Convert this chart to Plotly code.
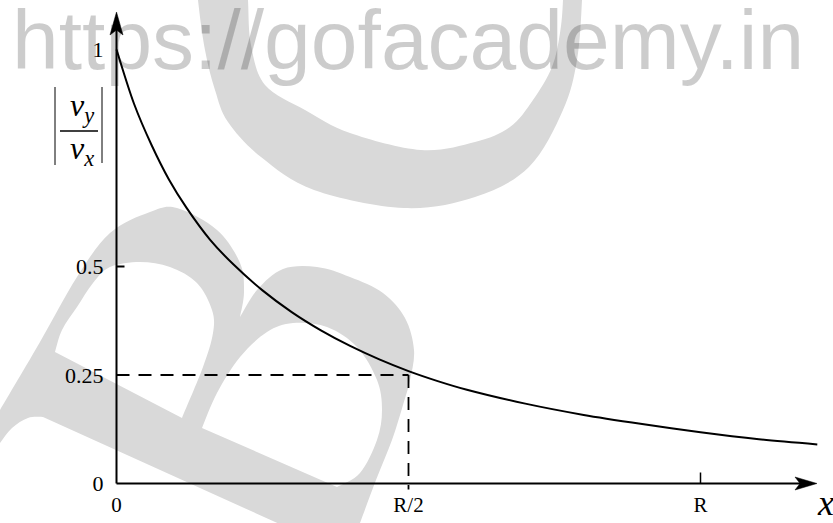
import plotly.graph_objects as go

W, H = 833, 523

# ---------------- data ----------------
x_ratio = [0.0, 0.03, 0.06, 0.09, 0.12, 0.16, 0.20, 0.25, 0.30, 0.35, 0.40,
           0.45, 0.50, 0.55, 0.60, 0.70, 0.80, 0.90, 1.00, 1.10, 1.20]
abs_vy_vx = [1.0, 0.875, 0.78, 0.70, 0.635, 0.562, 0.505, 0.445, 0.395, 0.353, 0.317,
             0.286, 0.259, 0.236, 0.216, 0.184, 0.158, 0.137, 0.118, 0.102, 0.090]
ref_x = 0.5
ref_y = 0.25
y_tick_vals = [0, 0.25, 0.5, 1]
y_tick_text = ["0", "0.25", "0.5", "1"]
x_tick_vals = [0, 0.5, 1]
x_tick_text = ["0", "R/2", "R"]
watermark = "https://gofacademy.in"

# ---------------- pixel <-> axis mapping ----------------
X0_PX, X_SCALE = 116.5, 584.0
Y0_PX, Y_SCALE = 483.5, 434.0
x_range = [(0 - X0_PX) / X_SCALE, (W - X0_PX) / X_SCALE]
y_range = [(Y0_PX - H) / Y_SCALE, Y0_PX / Y_SCALE]


def px(x):
    return x / W


def py(y):
    return 1 - y / H


def P(pt):
    return f"{px(pt[0]):.5f},{py(pt[1]):.5f}"


def catmull(pts):
    """cubic bezier segments through pts (open curve)."""
    segs = []
    n = len(pts)
    for i in range(n - 1):
        p0 = pts[i - 1] if i > 0 else pts[i]
        p1 = pts[i]
        p2 = pts[i + 1]
        p3 = pts[i + 2] if i + 2 < n else pts[i + 1]
        c1 = (p1[0] + (p2[0] - p0[0]) / 6, p1[1] + (p2[1] - p0[1]) / 6)
        c2 = (p2[0] - (p3[0] - p1[0]) / 6, p2[1] - (p3[1] - p1[1]) / 6)
        segs.append(f"C{P(c1)} {P(c2)} {P(p2)}")
    return " ".join(segs)


# watermark "C" ring (pixel coords)
ring_outer = [(194, -50), (198, 0), (205, 50), (215, 90), (228, 122), (261, 157), (314, 190),
              (404, 208), (475, 197), (529, 167), (563, 110), (577, 60), (582, 0), (583, -50)]
ring_inner = [(564, -50), (563, 0), (560, 33), (552, 67), (533, 100), (510, 127), (475, 142),
              (421, 150), (350, 133), (305, 110), (265, 85), (251, 45), (248, 0), (246, -50)]
ring_path = (f"M{P(ring_outer[0])} " + catmull(ring_outer) +
             f" L{P(ring_inner[0])} " + catmull(ring_inner) + " Z")

# watermark "B" (pixel coords)
b_outer = [(0, 410), (40, 342), (77, 277), (110, 233), (150, 212), (177, 208), (217, 230),
           (240, 263), (244, 292), (240, 317)]
b_outer2 = [(240, 317), (257, 290), (283, 269), (317, 267), (350, 277), (383, 293),
            (405, 318), (414, 350), (410, 380), (403, 405), (392, 440), (376, 480),
            (360, 523), (352, 545)]
b_corner = [(43, 417), (28, 418), (12, 428), (0, 443), (-10, 455)]
b_path = (f"M{P((-10, 427))} L{P(b_outer[0])} " + catmull(b_outer) + " " +
          catmull(b_outer2) + f" L{P((326, 545))} L{P(b_corner[0])} " +
          catmull(b_corner) + " Z")
hole1 = [(55, 352), (62, 330), (77, 307), (93, 283), (110, 267), (140, 262), (170, 267),
         (197, 283), (212, 310), (213, 333), (203, 367), (182, 418)]
hole2 = [(202, 428), (217, 393), (240, 357), (267, 332), (293, 323), (327, 327), (357, 347),
         (377, 380), (382, 410), (377, 440), (360, 473), (337, 487)]
b_path += f" M{P(hole1[0])} " + catmull(hole1) + " Z"
b_path += f" M{P(hole2[0])} " + catmull(hole2) + " Z"

GREY = "#d9d9d9"
shapes = [
    dict(type="path", path=ring_path, xref="paper", yref="paper", fillcolor=GREY,
         line=dict(width=0), layer="below"),
    dict(type="path", path=b_path, xref="paper", yref="paper", fillcolor=GREY,
         line=dict(width=0), layer="below", fillrule="evenodd"),
]

# axes lines (data coords) + arrowheads
x_axis_end = (802 - X0_PX) / X_SCALE
y_axis_end = (Y0_PX - 30) / Y_SCALE
shapes += [
    dict(type="line", xref="x", yref="y", x0=0, y0=0, x1=x_axis_end, y1=0,
         line=dict(color="black", width=2)),
    dict(type="line", xref="x", yref="y", x0=0, y0=0, x1=0, y1=y_axis_end,
         line=dict(color="black", width=2)),
]
ax_tip = [(817, Y0_PX), (795, Y0_PX - 6.5), (800, Y0_PX), (795, Y0_PX + 6.5)]
ay_tip = [(X0_PX, 12), (X0_PX - 6.5, 35), (X0_PX, 30), (X0_PX + 6.5, 35)]
for tri in (ax_tip, ay_tip):
    shapes.append(dict(type="path", xref="paper", yref="paper",
                       path="M" + " L".join(P(p) for p in tri) + " Z",
                       fillcolor="black", line=dict(color="black", width=0.5)))

# tick marks
shapes += [
    dict(type="line", xref="x", yref="y", x0=0, x1=8 / X_SCALE, y0=0.5, y1=0.5,
         line=dict(color="black", width=2)),
    dict(type="line", xref="x", yref="y", x0=1, x1=1, y0=0, y1=11 / Y_SCALE,
         line=dict(color="black", width=1.5)),
]
# dashed reference lines
shapes += [
    dict(type="line", xref="x", yref="y", x0=0, x1=ref_x, y0=ref_y, y1=ref_y,
         line=dict(color="black", width=1.8, dash="13px,9px")),
    dict(type="line", xref="x", yref="y", x0=ref_x, x1=ref_x, y0=ref_y, y1=-6 / Y_SCALE,
         line=dict(color="black", width=1.8, dash="13px,9px")),
]

# y title: | v_y / v_x |
shapes += [
    dict(type="line", xref="paper", yref="paper", x0=px(60), x1=px(98), y0=py(131), y1=py(131),
         line=dict(color="black", width=1.3)),
    dict(type="line", xref="paper", yref="paper", x0=px(55), x1=px(55), y0=py(87), y1=py(165),
         line=dict(color="black", width=1)),
    dict(type="line", xref="paper", yref="paper", x0=px(102), x1=px(102), y0=py(87), y1=py(163),
         line=dict(color="black", width=1)),
]

SERIF = "Liberation Serif"
annotations = [
    dict(text="<i>v</i><sub><i>y</i></sub>", x=px(82), y=py(108), xref="paper", yref="paper",
         showarrow=False, xanchor="center", yanchor="middle",
         font=dict(family=SERIF, size=32, color="black")),
    dict(text="<i>v</i><sub><i>x</i></sub>", x=px(82), y=py(150), xref="paper", yref="paper",
         showarrow=False, xanchor="center", yanchor="middle",
         font=dict(family=SERIF, size=32, color="black")),
    dict(text="<i>x</i>", x=px(825), y=py(503), xref="paper", yref="paper",
         showarrow=False, xanchor="center", yanchor="middle",
         font=dict(family=SERIF, size=36, color="black")),
    dict(text=watermark, x=px(408), y=py(40), xref="paper", yref="paper",
         showarrow=False, xanchor="center", yanchor="middle",
         font=dict(family="Liberation Sans", size=84, color="rgba(0,0,0,0.2)")),
]

fig = go.Figure()
fig.add_trace(go.Scatter(x=x_ratio, y=abs_vy_vx, mode="lines",
                         line=dict(color="black", width=2, shape="spline", smoothing=0.8),
                         hoverinfo="skip", showlegend=False))

fig.update_layout(
    width=W, height=H,
    margin=dict(l=0, r=0, t=0, b=0),
    paper_bgcolor="white", plot_bgcolor="white",
    showlegend=False,
    hovermode=False,
    shapes=shapes,
    annotations=annotations,
    xaxis=dict(range=x_range, domain=[0, 1], anchor="free", position=py(Y0_PX),
               showgrid=False, zeroline=False, showline=False, ticks="",
               tickvals=x_tick_vals, ticktext=x_tick_text, ticklabelstandoff=6,
               tickfont=dict(family=SERIF, size=21, color="black"), fixedrange=True),
    yaxis=dict(range=y_range, domain=[0, 1], anchor="free", position=px(X0_PX),
               showgrid=False, zeroline=False, showline=False, ticks="",
               tickvals=y_tick_vals, ticktext=y_tick_text, ticklabelstandoff=13,
               tickfont=dict(family=SERIF, size=22, color="black"), fixedrange=True),
)

fig.write_html("out.html", config={"displayModeBar": False},
               post_script="document.body.style.margin='0px';")
